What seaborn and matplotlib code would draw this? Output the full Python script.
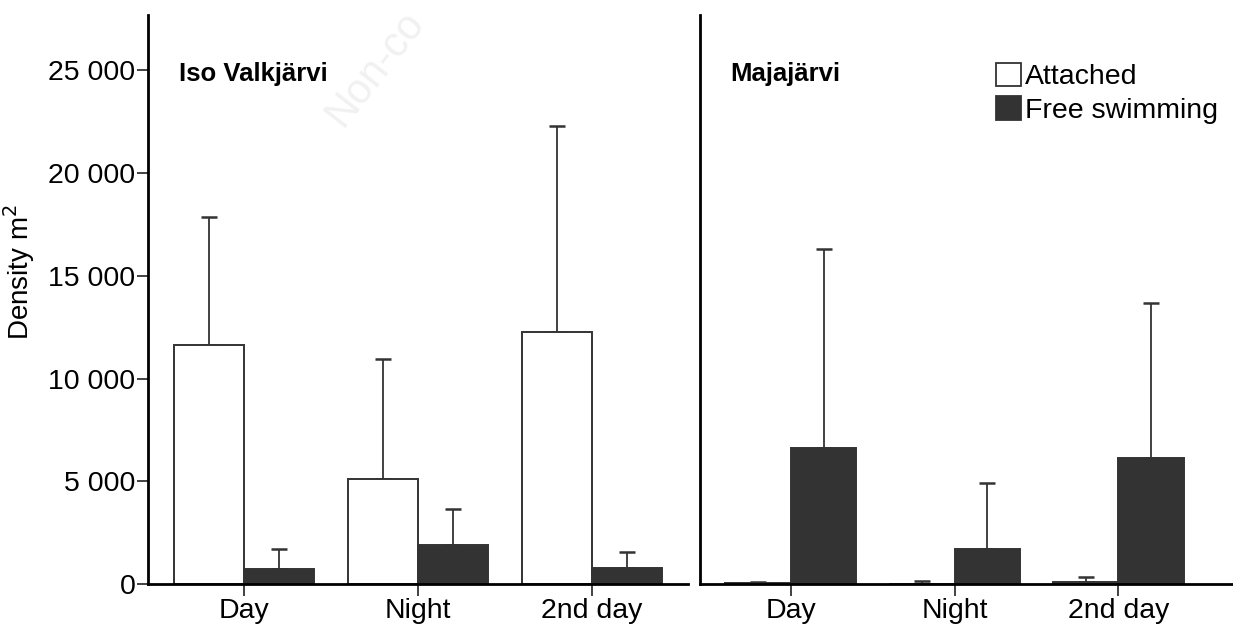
import pandas as pd
import numpy as np
import matplotlib
matplotlib.use("Agg")
import matplotlib.pyplot as plt
import seaborn as sns
from matplotlib.patches import Patch

# values (density per m2)
periods = ["Day", "Night", "2nd day"]
types = ["Attached", "Free swimming"]

iso_attached = [11650, 5100, 12250]
iso_attached_err = [17850, 10950, 22300]   # top of error bar
iso_free = [750, 1900, 800]
iso_free_err = [1700, 3650, 1550]

maja_attached = [30, 20, 100]
maja_attached_err = [100, 150, 340]
maja_free = [6600, 1700, 6150]
maja_free_err = [16300, 4900, 13700]

lakes = ["Iso Valkjärvi", "Majajärvi"]

rows = []
for lake, att, atte, fr, fre in [
    (lakes[0], iso_attached, iso_attached_err, iso_free, iso_free_err),
    (lakes[1], maja_attached, maja_attached_err, maja_free, maja_free_err),
]:
    for i, p in enumerate(periods):
        rows.append({"lake": lake, "period": p, "type": types[0], "density": att[i], "upper": atte[i]})
        rows.append({"lake": lake, "period": p, "type": types[1], "density": fr[i], "upper": fre[i]})
df = pd.DataFrame(rows)

sns.set_style("white")
plt.rcParams["font.family"] = ["Liberation Sans", "DejaVu Sans"]
plt.rcParams["text.color"] = "black"
plt.rcParams["xtick.labelcolor"] = "black"
plt.rcParams["ytick.labelcolor"] = "black"
plt.rcParams["axes.labelcolor"] = "black"

colors = {"Attached": "white", "Free swimming": "#333333"}
edge = "#333333"
fs = 20.5

fig = plt.figure(figsize=(12.33, 6.3), dpi=100)
ax1 = fig.add_axes([148 / 1233, 1 - 584 / 630, 540 / 1233, 569 / 630])
ax2 = fig.add_axes([700 / 1233, 1 - 584 / 630, 533 / 1233, 569 / 630])

# faint watermark behind everything
fig.text(318 / 1233, 1 - 134 / 630, "Non-co", fontsize=30, color="#f1f1f1",
         rotation=52, ha="left", va="bottom", zorder=-1)

for ax, lake in zip([ax1, ax2], lakes):
    ax.patch.set_visible(False)
    d = df[df["lake"] == lake]
    sns.barplot(data=d, x="period", y="density", hue="type", order=periods,
                hue_order=types, palette=colors, edgecolor=edge, linewidth=1.4,
                width=0.8, errorbar=None, legend=False, ax=ax, zorder=2)
    # upward error bars
    for cont, t in zip(ax.containers, types):
        sub = d[d["type"] == t].set_index("period").loc[periods]
        xs = [b.get_x() + b.get_width() / 2 for b in cont]
        ax.errorbar(xs, sub["density"], yerr=[np.zeros(len(xs)), sub["upper"] - sub["density"]],
                    fmt="none", ecolor=edge, elinewidth=1.3, capsize=6, capthick=1.8, zorder=1)
    ax.set_ylim(0, 27700)
    ax.set_xlabel("")
    ax.set_ylabel("")
    for s in ["top", "right"]:
        ax.spines[s].set_visible(False)
    for s in ["left", "bottom"]:
        ax.spines[s].set_color("black")
        ax.spines[s].set_linewidth(2.0)
        ax.spines[s].set_zorder(3)
    ax.tick_params(axis="x", which="both", bottom=True, length=8.5, width=1.3, color="#333333",
                   labelsize=fs, pad=1.5, direction="out")
    ax.text(0.057, 0.897, lake, transform=ax.transAxes, fontsize=18.5, fontweight="bold",
            ha="left", va="center")

ax1.set_xlim(-0.552, 2.552)
ax2.set_xlim(-0.555, 2.70)

ax1.set_yticks([0, 5000, 10000, 15000, 20000, 25000])
ax1.set_yticklabels(["0", "5 000", "10 000", "15 000", "20 000", "25 000"])
ax1.tick_params(axis="y", left=True, length=8, width=1.3, color="#333333", labelsize=fs,
                pad=1, direction="out")
ax1.set_ylabel("Density m$^2$", fontsize=20)
ax1.yaxis.set_label_coords(-0.205, 0.548)

ax2.set_yticks([])

handles = [Patch(facecolor=colors[t], edgecolor="#333333", linewidth=1.3) for t in types]
ax2.legend(handles, types, loc="upper left", bbox_to_anchor=(0.555, 0.916), frameon=False,
           fontsize=fs, handlelength=0.9, handleheight=0.9, handletextpad=0.12,
           labelspacing=0.2, borderaxespad=0, borderpad=0)

fig.savefig("out.png", dpi=100)
